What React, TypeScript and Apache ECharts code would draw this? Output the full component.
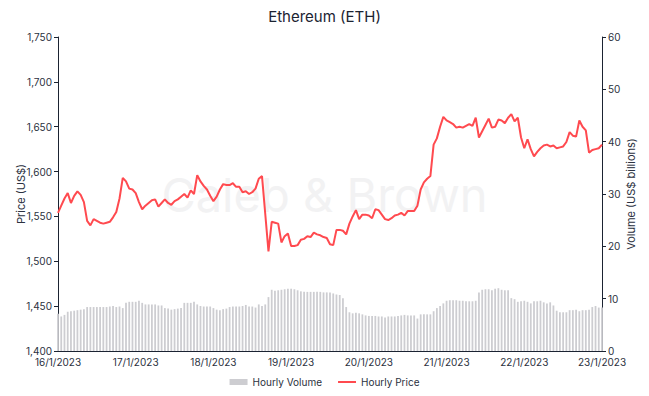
import React, { useEffect, useRef } from "react";
import * as echarts from "echarts";

const dayLabels = ["16/1/2023", "17/1/2023", "18/1/2023", "19/1/2023", "20/1/2023", "21/1/2023", "22/1/2023", "23/1/2023"];

const hourlyPrice = [
  1554, 1562, 1570, 1576, 1565, 1573, 1578, 1574, 1566, 1545,
  1540, 1547, 1545, 1543, 1542, 1543, 1544, 1549, 1555, 1570,
  1593, 1589, 1581, 1580, 1576, 1566, 1558, 1562, 1565, 1568,
  1569, 1561, 1565, 1569, 1565, 1563, 1567, 1569, 1572, 1575,
  1571, 1579, 1575, 1596, 1589, 1584, 1580, 1573, 1567, 1572,
  1580, 1586, 1585, 1585, 1587, 1583, 1583, 1577, 1578, 1575,
  1577, 1581, 1592, 1595, 1553, 1511, 1544, 1543, 1542, 1521,
  1528, 1531, 1517, 1517, 1518, 1524, 1525, 1528, 1527, 1532,
  1530, 1529, 1527, 1526, 1519, 1518, 1535, 1535, 1534, 1530,
  1542, 1550, 1557, 1547, 1552, 1552, 1551, 1548, 1558, 1557,
  1552, 1547, 1546, 1548, 1551, 1552, 1554, 1551, 1556, 1556,
  1556, 1562, 1580, 1588, 1592, 1595, 1630, 1637, 1650, 1661,
  1657, 1655, 1653, 1649, 1650, 1649, 1651, 1653, 1651, 1660,
  1638, 1645, 1652, 1659, 1649, 1650, 1658, 1657, 1654, 1660,
  1664, 1656, 1660, 1638, 1626, 1636, 1625, 1617, 1622, 1626,
  1629, 1630, 1628, 1629, 1626, 1627, 1628, 1633, 1644, 1640,
  1639, 1657, 1650, 1646, 1621, 1624, 1625, 1626, 1630,
];

const hourlyVolume = [
  7.1, 6.6, 6.9, 7.5, 7.6, 7.7, 7.8, 7.9, 8.0, 8.4,
  8.4, 8.4, 8.4, 8.4, 8.4, 8.4, 8.5, 8.6, 8.4, 8.5,
  8.2, 9.2, 9.4, 9.4, 9.4, 9.6, 9.2, 8.9, 8.9, 8.9,
  8.9, 8.7, 8.7, 8.2, 8.1, 7.9, 8.0, 8.1, 8.2, 9.2,
  9.2, 9.2, 9.4, 8.9, 8.6, 8.5, 8.5, 8.5, 8.2, 7.9,
  7.8, 8.0, 8.1, 8.4, 8.5, 8.5, 8.5, 8.6, 8.8, 8.5,
  8.5, 8.3, 8.9, 8.6, 8.9, 10.3, 11.7, 11.5, 11.6, 11.7,
  11.8, 11.9, 11.9, 11.8, 11.6, 11.4, 11.3, 11.3, 11.3, 11.3,
  11.3, 11.3, 11.2, 11.2, 11.2, 11.0, 10.8, 10.7, 10.1, 8.4,
  7.4, 7.2, 7.3, 7.2, 7.0, 6.8, 6.7, 6.7, 6.7, 6.6,
  6.6, 6.4, 6.6, 6.6, 6.6, 6.7, 6.8, 6.9, 6.8, 6.8,
  6.8, 6.2, 7.0, 7.0, 7.0, 7.0, 7.6, 8.2, 8.6, 9.1,
  9.6, 9.7, 9.7, 9.7, 9.6, 9.6, 9.5, 9.5, 9.5, 9.6,
  11.2, 11.7, 11.8, 11.8, 11.6, 11.9, 12.0, 11.7, 11.6, 11.6,
  10.1, 9.9, 9.4, 9.5, 9.6, 9.4, 9.1, 9.5, 9.5, 9.6,
  9.3, 9.1, 9.3, 8.7, 7.7, 7.4, 7.4, 7.4, 7.8, 7.8,
  7.9, 7.6, 7.8, 7.8, 7.9, 8.4, 8.6, 8.3, 8.3,
];

const hourLabels = hourlyPrice.map((_, i) => (i % 24 === 0 ? dayLabels[i / 24] : ""));

const FONT = "Inter";
const AXIS_COLOR = "#1b2332";
const TEXT_COLOR = "#2b3140";

export default function App() {
  const ref = useRef<HTMLDivElement>(null);
  useEffect(() => {
    if (!ref.current) return;
    const chart = echarts.init(ref.current, null, { renderer: "svg" });
    chart.setOption({
      animation: false,
      backgroundColor: "#ffffff",
      textStyle: { fontFamily: FONT },
      title: {
        text: "Ethereum (ETH)",
        left: "center",
        top: 1,
        padding: 0,
        textStyle: { fontFamily: FONT, fontSize: 15, fontWeight: "normal", color: "#1b2332" },
      },
      graphic: [
        {
          type: "text",
          left: "center",
          top: 163,
          z: 0,
          silent: true,
          style: {
            text: "Caleb & Brown",
            fontFamily: FONT,
            fontSize: 47,
            fill: "#f2f2f3",
          },
        },
      ],
      legend: {
        bottom: 1,
        left: "center",
        padding: 0,
        itemWidth: 18,
        itemHeight: 6,
        itemGap: 16,
        textStyle: { fontFamily: FONT, fontSize: 10, color: TEXT_COLOR },
        data: [
          { name: "Hourly Volume", icon: "rect" },
          { name: "Hourly Price", icon: "path://M0,0 L22,0 L22,2.4 L0,2.4 Z" },
        ],
      },
      grid: { left: 50, right: 39, top: 29, bottom: 37, containLabel: false, outerBoundsMode: "none" },
      xAxis: {
        type: "category",
        data: hourLabels,
        boundaryGap: false,
        axisLine: { lineStyle: { color: AXIS_COLOR, width: 1 } },
        axisTick: { show: false },
        axisLabel: {
          interval: (i: number) => i % 24 === 0,
          color: TEXT_COLOR,
          fontSize: 10,
          fontFamily: FONT,
          margin: 6,
          showMaxLabel: true,
        },
        splitLine: { show: false },
      },
      yAxis: [
        {
          type: "value",
          min: 1400,
          max: 1750,
          interval: 50,
          name: "Price (US$)",
          nameLocation: "middle",
          nameGap: 32,
          nameMoveOverlap: false,
          nameTextStyle: { color: TEXT_COLOR, fontSize: 11, fontFamily: FONT },
          axisLine: { show: true, lineStyle: { color: AXIS_COLOR } },
          axisTick: { show: true, length: 4, lineStyle: { color: AXIS_COLOR } },
          axisLabel: {
            color: TEXT_COLOR,
            fontSize: 10,
            fontFamily: FONT,
            margin: 6,
            formatter: (v: number) => v.toLocaleString("en-US"),
          },
          splitLine: { show: false },
        },
        {
          type: "value",
          min: 0,
          max: 60,
          interval: 10,
          name: "Volume (US$ billions)",
          nameLocation: "middle",
          nameGap: 23,
          nameMoveOverlap: false,
          nameRotate: 90,
          nameTextStyle: { color: TEXT_COLOR, fontSize: 11, fontFamily: FONT },
          axisLine: { show: true, lineStyle: { color: AXIS_COLOR } },
          axisTick: { show: true, length: 4, lineStyle: { color: AXIS_COLOR } },
          axisLabel: { color: TEXT_COLOR, fontSize: 10, fontFamily: FONT, margin: 6 },
          splitLine: { show: false },
        },
      ],
      series: [
        {
          name: "Hourly Volume",
          type: "bar",
          yAxisIndex: 1,
          data: hourlyVolume,
          barWidth: "55%",
          itemStyle: { color: "#cdcdd1" },
          z: 1,
        },
        {
          name: "Hourly Price",
          type: "line",
          yAxisIndex: 0,
          data: hourlyPrice,
          showSymbol: false,
          symbol: "none",
          lineStyle: { color: "#ff4a4f", width: 2 },
          itemStyle: { color: "#ff4a4f" },
          z: 3,
        },
      ],
    });
    return () => chart.dispose();
  }, []);
  return <div ref={ref} style={{ width: 633, height: 380 }} />;
}
